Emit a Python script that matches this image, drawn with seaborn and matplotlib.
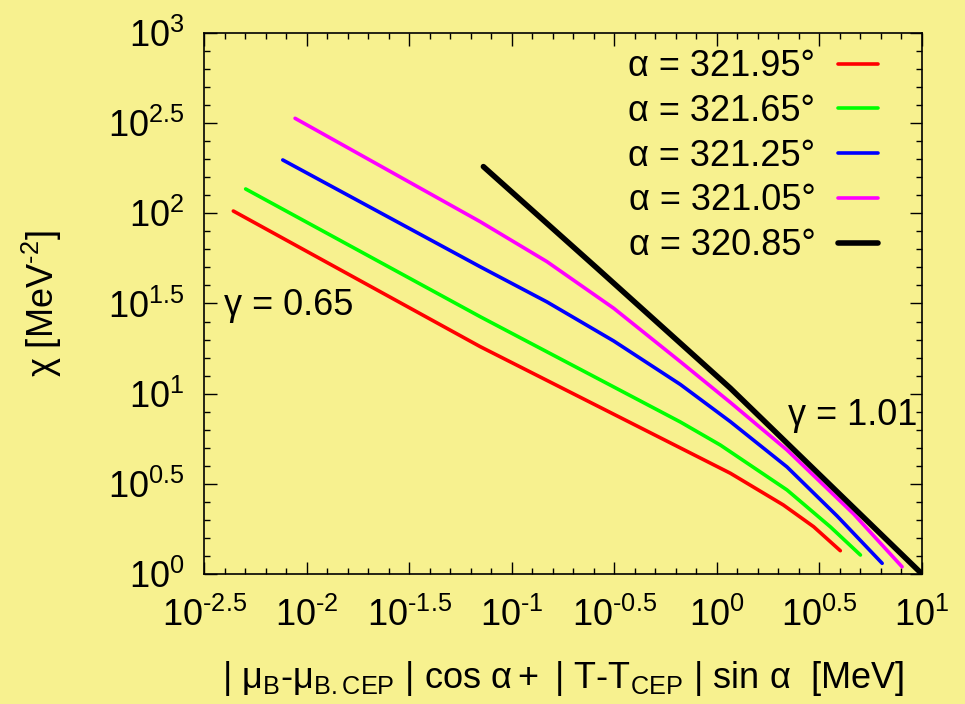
import numpy as np
import pandas as pd
import matplotlib
matplotlib.use('Agg')
import matplotlib.pyplot as plt
from matplotlib.ticker import FixedLocator, NullFormatter
import seaborn as sns

# values (x in MeV, chi in MeV^-2)
labels = ['α = 321.95°', 'α = 321.65°', 'α = 321.25°', 'α = 321.05°', 'α = 320.85°']
colors = ['#ff0000', '#00ff00', '#0000ff', '#ff00ff', '#000000']

x_red = [0.004395, 0.07015, 1.164, 2.109, 2.965, 3.999]
y_red = [103.0, 18.24, 3.619, 2.414, 1.828, 1.346]

x_green = [0.005047, 0.07015, 0.6637, 1.040, 2.198, 3.581, 5.012]
y_green = [136.5, 26.73, 6.966, 5.188, 2.924, 1.823, 1.274]

x_blue = [0.007656, 0.07015, 0.1486, 0.3141, 0.6637, 1.164, 2.198, 3.855, 6.397]
y_blue = [197.7, 50.58, 32.26, 19.60, 11.25, 6.994, 3.923, 2.098, 1.146]

x_magenta = [0.00879, 0.07015, 0.1486, 0.3141, 0.6637, 1.164, 2.198, 4.645, 7.998]
y_magenta = [336.5, 89.95, 53.95, 29.77, 15.05, 8.938, 4.872, 2.152, 1.096]

x_black = [0.07278, 0.2606, 1.164, 10.0]
y_black = [181.6, 49.66, 10.72, 1.0]

xs = [x_red, x_green, x_blue, x_magenta, x_black]
ys = [y_red, y_green, y_blue, y_magenta, y_black]
widths = [2.6, 2.6, 2.6, 2.6, 4.0]

x_exps = ['-2.5', '-2', '-1.5', '-1', '-0.5', '0', '0.5', '1']
y_exps = ['0', '0.5', '1', '1.5', '2', '2.5', '3']

bg = '#f7f18f'
sns.set_theme(style='ticks', rc={'axes.facecolor': bg, 'figure.facecolor': bg,
                                 'text.color': 'black', 'axes.labelcolor': 'black',
                                 'xtick.color': 'black', 'ytick.color': 'black'})
plt.rcParams['font.family'] = ['Liberation Sans', 'DejaVu Sans']
plt.rcParams['mathtext.fontset'] = 'custom'
plt.rcParams['mathtext.rm'] = 'Liberation Sans'
plt.rcParams['mathtext.it'] = 'Liberation Sans'
plt.rcParams['mathtext.sf'] = 'Liberation Sans'

fs = 26

fig = plt.figure(figsize=(9.65, 7.04), dpi=100)
ax = fig.add_axes([0.2114, 0.1847, 0.7440, 0.7684])
ax.set(xscale='log', yscale='log')

for x, y, lab, c, w in zip(xs, ys, labels, colors, widths):
    df = pd.DataFrame({'x': x, 'y': y})
    sns.lineplot(data=df, x='x', y='y', color=c, lw=w, label=lab, ax=ax,
                 sort=False, estimator=None)

ax.set_xlim(10 ** -2.5, 10.0)
ax.set_ylim(1.0, 1000.0)


def exp_label(e):
    e = e.replace('-', r'\text{-}')
    return r'$\mathregular{10^{%s}}$' % e


ax.xaxis.set_major_locator(FixedLocator([10 ** float(e) for e in x_exps]))
ax.yaxis.set_major_locator(FixedLocator([10 ** float(e) for e in y_exps]))
ax.set_xticklabels([exp_label(e) for e in x_exps])
ax.set_yticklabels([exp_label(e) for e in y_exps])
ax.xaxis.set_minor_locator(FixedLocator(10 ** (np.arange(-25, 11) / 10.0)))
ax.yaxis.set_minor_locator(FixedLocator(10 ** (np.arange(0, 31) / 10.0)))
ax.xaxis.set_minor_formatter(NullFormatter())
ax.yaxis.set_minor_formatter(NullFormatter())

ax.tick_params(which='both', direction='in', top=True, right=True, color='black', width=1.0)
ax.tick_params(which='major', length=9, labelsize=fs)
ax.tick_params(which='minor', length=4.5)
ax.tick_params(axis='x', which='major', pad=17)
ax.tick_params(axis='y', which='major', pad=14)
for s in ax.spines.values():
    s.set_color('black')
    s.set_linewidth(1.2)

ax.set_xlabel(r'$\mathregular{|\ μ_B\text{-}μ_{B.CEP}\ |\ cos\ α + \ |\ T\text{-}T_{CEP}\ |\ sin\ α\ \ [MeV]}$',
              fontsize=fs, labelpad=18)
ax.set_ylabel(r'$\mathregular{χ\ [MeV^{\text{-}2}]}$', fontsize=fs, labelpad=32)

ax.text(0.028, 0.497, 'γ = 0.65', transform=ax.transAxes, fontsize=fs, ha='left', va='center')
ax.text(0.993, 0.293, 'γ = 1.01', transform=ax.transAxes, fontsize=fs, ha='right', va='center')

leg = ax.legend(loc='upper right', bbox_to_anchor=(0.939, 0.97), frameon=False,
                markerfirst=False, fontsize=fs, handlelength=1.1, handletextpad=0.64,
                labelspacing=0.27, borderpad=0, borderaxespad=0)

fig.savefig('out.png', dpi=100, facecolor=bg)
